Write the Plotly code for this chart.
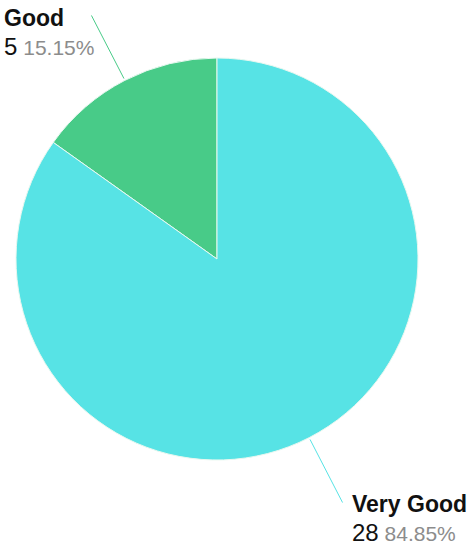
import math
import plotly.graph_objects as go

# Survey results
categories = ["Good", "Very Good"]
counts = [5, 28]
colors = ["#48CB88", "#57E3E5"]

W, H = 468, 546
CX, CY, R = 217, 259, 201          # pie centre and radius in pixels
R_IN, R_OUT = 203, 274              # leader line start / end radius


def px(x):
    return x / W


def py(y):
    return 1 - y / H


total = sum(counts)
pcts = [c / total * 100 for c in counts]

# first slice ends at 12 o'clock, laid out counterclockwise from there
start_deg = -360 * counts[0] / total

fig = go.Figure(
    go.Pie(
        labels=categories,
        values=counts,
        sort=False,
        direction="clockwise",
        rotation=start_deg,
        marker=dict(colors=colors, line=dict(color="#E8F8F0", width=1)),
        textinfo="none",
        hoverinfo="label+value+percent",
        showlegend=False,
        domain=dict(x=[px(CX - R), px(CX + R)], y=[py(CY + R), py(CY - R)]),
    )
)

shapes = []
annotations = []
cum = 0
for name, cnt, pct, col in zip(categories, counts, pcts, colors):
    mid = (cum + cnt / 2) / total * 2 * math.pi
    cum += cnt
    sx, cy_ = -math.sin(mid), -math.cos(mid)  # counterclockwise from 12 o'clock
    x0, y0 = CX + R_IN * sx, CY + R_IN * cy_
    x1, y1 = CX + R_OUT * sx, CY + R_OUT * cy_
    shapes.append(dict(type="line", xref="paper", yref="paper",
                       x0=px(x0), y0=py(y0), x1=px(x1), y1=py(y1),
                       line=dict(color=col, width=1)))
    if sx < 0:
        lx = x1 - 88
        ty = y1 - 11
    else:
        lx = x1 + 8
        ty = y1 - 13
    annotations.append(dict(
        x=px(lx), y=py(ty), xref="paper", yref="paper",
        xanchor="left", yanchor="top", showarrow=False, borderpad=0,
        text=f"<b>{name}</b>",
        font=dict(family="Liberation Sans, Arial", size=23, color="#111111"),
    ))
    annotations.append(dict(
        x=px(lx), y=py(ty + 28), xref="paper", yref="paper",
        xanchor="left", yanchor="top", showarrow=False, borderpad=0,
        text=f"<span style='font-size:24px;color:#111111'>{cnt}</span> "
             f"<span style='font-size:21px;color:#8c8c8c'>{pct:.2f}%</span>",
        font=dict(family="Liberation Sans, Arial", size=21, color="#111111"),
    ))

fig.update_layout(
    width=W, height=H,
    margin=dict(l=0, r=0, t=0, b=0),
    paper_bgcolor="white",
    plot_bgcolor="white",
    shapes=shapes,
    annotations=annotations,
)

fig.write_html("out.html")
